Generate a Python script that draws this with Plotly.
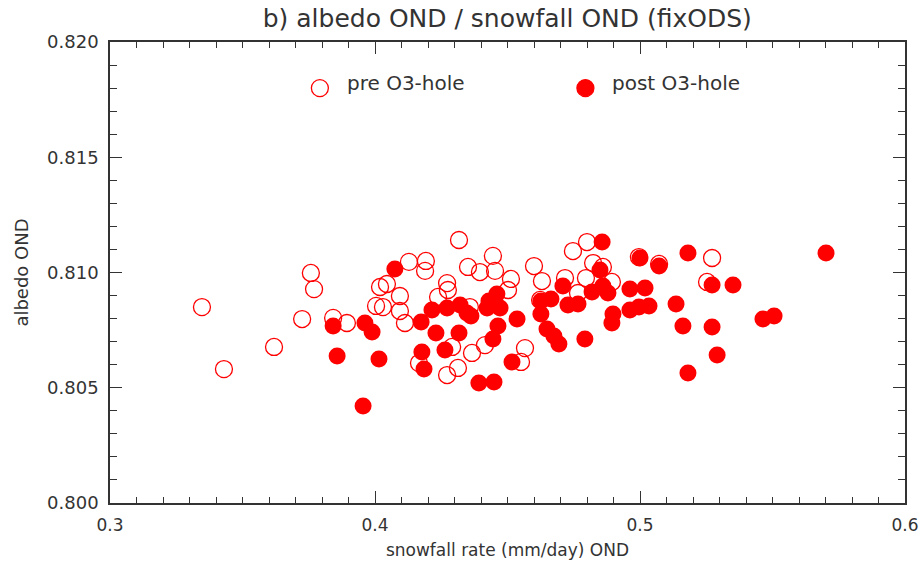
import plotly.graph_objects as go

# pre O3-hole (open circles)
pre_x = [0.3347, 0.3430, 0.3619, 0.3725, 0.3758, 0.3770, 0.3842, 0.3894, 0.4004, 0.4030,
         0.4019, 0.4045, 0.4094, 0.4094, 0.4113, 0.4128, 0.4192, 0.4189, 0.4166, 0.4317,
         0.4272, 0.4275, 0.4238, 0.4351, 0.4396, 0.4445, 0.4453, 0.4513, 0.4502, 0.4291,
         0.4313, 0.4272, 0.4366, 0.4415, 0.4600, 0.4630, 0.4717, 0.4747, 0.4800, 0.4823,
         0.4860, 0.4796, 0.4894, 0.4766, 0.4623, 0.4566, 0.4551, 0.4996, 0.5072, 0.5272,
         0.5253, 0.4358]
pre_y = [0.80850, 0.80581, 0.80677, 0.80798, 0.80998, 0.80928, 0.80803, 0.80781, 0.80855, 0.80850,
         0.80937, 0.80950, 0.80898, 0.80833, 0.80781, 0.81046, 0.81050, 0.81007, 0.80607, 0.81141,
         0.80954, 0.80924, 0.80894, 0.81024, 0.81002, 0.81072, 0.81007, 0.80972, 0.80924, 0.80677,
         0.80586, 0.80555, 0.80651, 0.80685, 0.81028, 0.80963, 0.80976, 0.81093, 0.81132, 0.81041,
         0.81024, 0.80976, 0.80959, 0.80911, 0.80881, 0.80672, 0.80612, 0.81067, 0.81037, 0.81063,
         0.80959, 0.80850]

# post O3-hole (filled circles)
post_x = [0.3955, 0.3857, 0.3842, 0.3962, 0.3989, 0.4015, 0.4075, 0.4174, 0.4177, 0.4185,
          0.4215, 0.4230, 0.4272, 0.4264, 0.4317, 0.4321, 0.4347, 0.4362, 0.4392, 0.4449,
          0.4423, 0.4430, 0.4460, 0.4472, 0.4464, 0.4445, 0.4536, 0.4517, 0.4626, 0.4626,
          0.4664, 0.4649, 0.4675, 0.4694, 0.4709, 0.4728, 0.4766, 0.4792, 0.4819, 0.4857,
          0.4849, 0.4860, 0.4879, 0.4894, 0.4898, 0.4962, 0.4962, 0.4996, 0.5000, 0.5019,
          0.5034, 0.5072, 0.5136, 0.5162, 0.5181, 0.5181, 0.5272, 0.5272, 0.5291, 0.5351,
          0.5464, 0.5506, 0.5702]
post_y = [0.80421, 0.80638, 0.80768, 0.80781, 0.80742, 0.80625, 0.81015, 0.80785, 0.80655, 0.80581,
          0.80837, 0.80738, 0.80846, 0.80664, 0.80738, 0.80859, 0.80824, 0.80811, 0.80521, 0.80525,
          0.80846, 0.80876, 0.80907, 0.80846, 0.80768, 0.80711, 0.80798, 0.80612, 0.80876, 0.80820,
          0.80885, 0.80755, 0.80725, 0.80690, 0.80941, 0.80859, 0.80863, 0.80711, 0.80915, 0.81132,
          0.81011, 0.80941, 0.80911, 0.80781, 0.80820, 0.80928, 0.80837, 0.80850, 0.81063, 0.80933,
          0.80855, 0.81028, 0.80863, 0.80768, 0.81085, 0.80564, 0.80946, 0.80764, 0.80642, 0.80946,
          0.80798, 0.80811, 0.81085]

x_ticks = [0.3, 0.4, 0.5, 0.6]
y_ticks = [0.800, 0.805, 0.810, 0.815, 0.820]

RED = "#ff0000"
FONT = "DejaVu Sans"
TXT = "#333333"
AX = "#333333"

fig = go.Figure()
fig.add_trace(go.Scatter(x=pre_x, y=pre_y, mode="markers", name="pre O3-hole",
                         marker=dict(symbol="circle-open", size=17, color=RED,
                                     line=dict(width=1.3, color=RED))))
fig.add_trace(go.Scatter(x=post_x, y=post_y, mode="markers", name="post O3-hole",
                         marker=dict(symbol="circle", size=17, color=RED,
                                     line=dict(width=0))))

axis_common = dict(showline=True, linecolor=AX, linewidth=1.5, mirror="ticks",
                   ticks="inside", ticklen=12, tickwidth=1.2, tickcolor=AX,
                   showgrid=False, zeroline=False, automargin=False)

fig.update_xaxes(range=[0.3, 0.6], tickvals=x_ticks, ticktext=[str(v) for v in x_ticks],
                 minor=dict(ticks="inside", dtick=0.01, ticklen=6, tickwidth=1, tickcolor=AX),
                 tickfont=dict(family=FONT, size=17, color=TXT), ticklabelstandoff=6,
                 title=dict(text="snowfall rate (mm/day) OND", font=dict(family=FONT, size=17, color=TXT),
                            standoff=10),
                 **axis_common)
fig.update_yaxes(range=[0.800, 0.820], tickvals=y_ticks, ticktext=[f"{v:.3f}" for v in y_ticks],
                 minor=dict(ticks="inside", dtick=0.001, ticklen=7, tickwidth=1, tickcolor=AX),
                 tickfont=dict(family=FONT, size=18, color=TXT), ticklabelstandoff=6,
                 title=dict(text="albedo OND", font=dict(family=FONT, size=18, color=TXT), standoff=14),
                 **axis_common)

# legend drawn as decoration
legend_items = [("pre O3-hole", 0.264, False), ("post O3-hole", 0.598, True)]
shapes = []
annotations = []
for label, xp, filled in legend_items:
    shapes.append(dict(type="circle", xref="paper", yref="paper", xsizemode="pixel", ysizemode="pixel",
                       xanchor=xp, yanchor=0.900, x0=-8.5, x1=8.5, y0=-8.5, y1=8.5,
                       line=dict(color=RED, width=1.3),
                       fillcolor=RED if filled else "rgba(0,0,0,0)"))
    annotations.append(dict(text=label, xref="paper", yref="paper", x=xp + 0.031, y=0.910,
                            xanchor="left", yanchor="middle", showarrow=False,
                            font=dict(family=FONT, size=20, color=TXT)))

fig.update_layout(
    width=919, height=566,
    margin=dict(l=110, r=14, t=42, b=63),
    paper_bgcolor="white", plot_bgcolor="white",
    showlegend=False,
    title=dict(text="b) albedo OND / snowfall OND (fixODS)", x=0.552, xanchor="center",
               yref="container", y=0.968, yanchor="middle",
               font=dict(family=FONT, size=25, color=TXT)),
    shapes=shapes, annotations=annotations,
)

# remove the default 8px page margin so the figure fills the window exactly
fig.write_html("out.html", config={"displayModeBar": False},
               post_script="document.body.style.margin='0';document.body.style.overflow='hidden';")
